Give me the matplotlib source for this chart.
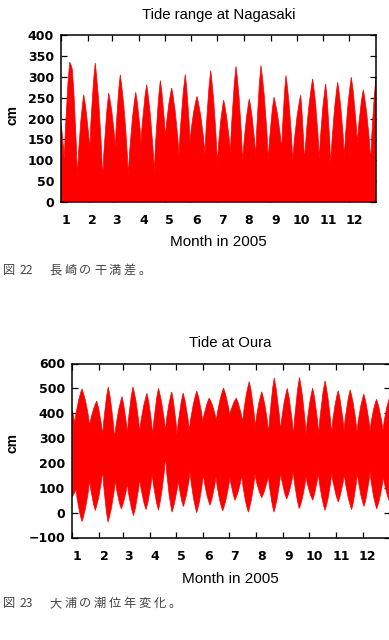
import numpy as np
import matplotlib
matplotlib.use("Agg")
import matplotlib.pyplot as plt
import matplotlib.transforms as mtransforms
from matplotlib.font_manager import FontProperties
from matplotlib.path import Path
from matplotlib.patches import PathPatch

# ---------------- data ----------------
# Tide range at Nagasaki: envelope vertices (day of year, cm)
nagasaki_days = [0, 3.8, 10.1, 13.1, 18.9, 26.3, 33.3, 39.7, 48.3, 55.3, 62.9, 68.7,
                 78.0, 86.6, 92.7, 99.3, 108.1, 115.1, 120.9, 128.3, 136.7, 144.0, 149.5,
                 157.6, 166.8, 173.5, 181.1, 188.5, 196.2, 202.8, 210.5, 218.2, 225.6,
                 231.7, 240.2, 246.8, 255.7, 260.7, 268.5, 277.7, 282.1, 291.6, 299.3,
                 306.7, 312.5, 320.6, 328.3, 336.4, 343.3, 350.3, 358.9, 365]
nagasaki_range = [185, 101, 335, 317, 59, 257, 125, 333, 57, 261, 131, 305,
                  65, 263, 141, 281, 73, 291, 155, 273, 112, 305, 145,
                  253, 115, 315, 93, 244, 117, 325, 97, 247, 109,
                  327, 101, 251, 125, 303, 99, 256, 95, 295, 104,
                  283, 89, 287, 109, 299, 141, 269, 99, 297]

# Tide at Oura: upper envelope (high waters) and lower envelope (low waters)
oura_high_days = [0, 3.1, 11.5, 20.3, 28.4, 35.3, 41.7, 48.9, 57.5, 63.6, 70.1, 77.8,
                  86.2, 92.8, 99.4, 107.3, 114.7, 120.7, 127.8, 134.8, 143.5, 150.3,
                  157.8, 165.9, 174.2, 181.3, 188.8, 196.2, 203.8, 210.7, 218.2, 226.1,
                  232.5, 239.7, 247.5, 254.6, 261.5, 269.0, 276.7, 283.6, 290.9, 298.3,
                  306.0, 312.7, 319.8, 327.6, 335.5, 342.6, 350.1, 357.5, 365]
oura_high = [412, 360, 498, 350, 449, 312, 506, 300, 467, 318, 506, 325,
             480, 312, 500, 330, 486, 312, 481, 330, 489, 365,
             461, 370, 501, 392, 461, 365, 527, 345, 486, 320,
             542, 330, 500, 310, 544, 315, 501, 315, 530, 320,
             491, 330, 494, 325, 477, 330, 456, 330, 462]
oura_low_days = [0, 4.6, 11.5, 20.3, 26.8, 35.3, 41.4, 49.8, 56.7, 63.6, 70.7, 77.8,
                 85.1, 92.2, 99.4, 107.5, 115.0, 122.2, 128.0, 135.7, 143.4, 150.9,
                 158.6, 165.5, 173.2, 181.6, 187.4, 195.1, 202.7, 210.4, 218.1, 225.7,
                 232.2, 239.9, 246.8, 254.4, 261.3, 269.0, 276.7, 283.1, 290.9, 298.6,
                 306.1, 313.0, 321.5, 328.0, 335.7, 342.6, 350.3, 357.9, 365]
oura_low = [63, 95, -36, 130, 9, 170, -38, 130, 15, 117, -12, 137,
            12, 157, 10, 225, 2, 130, 25, 165, 0, 155,
            30, 145, 7, 145, 50, 150, 2, 155, 60, 150,
            2, 160, 55, 165, 16, 145, 50, 160, 9, 160,
            43, 155, 12, 160, 25, 165, 15, 145, 45]

month_start_days = [0, 31, 59, 90, 120, 151, 181, 212, 243, 273, 304, 334]
month_labels = [str(m) for m in range(1, 13)]
nagasaki_yticks = [0, 50, 100, 150, 200, 250, 300, 350, 400]
oura_yticks = [-100, 0, 100, 200, 300, 400, 500, 600]

caption1_head = ['図', '22']
caption1_body = '長崎の干満差。'
caption2_head = ['図', '23']
caption2_body = '大浦の潮位年変化。'

# ---------------- figure ----------------
W, H = 389, 640
fig = plt.figure(figsize=(W / 100, H / 100), dpi=100)
plt.rcParams['font.family'] = ['Liberation Sans', 'DejaVu Sans']

RED = '#ff0000'
TICKFP = FontProperties(family=['DejaVu Sans'], weight='bold', size=9.0)
SANS = ['Liberation Sans', 'DejaVu Sans']
CJK = ['Noto Sans CJK JP', 'DejaVu Sans']


def px_axes(l, t, r, b):
    return fig.add_axes([l / W, 1 - b / H, (r - l) / W, (b - t) / H])


def style(ax, ylo, yhi, yticks):
    ax.set_xlim(0, 365)
    ax.set_ylim(ylo, yhi)
    ax.set_xticks(month_start_days)
    ax.set_xticklabels(month_labels)
    ax.set_yticks(yticks)
    ax.set_yticklabels([str(v).replace('-', '\u2212') for v in yticks])
    ax.tick_params(axis='both', which='major', direction='in', length=4.5, width=0.9,
                   top=True, right=True, color='black')
    ax.tick_params(axis='x', pad=9.0)
    ax.tick_params(axis='y', pad=5.0)
    for lab in ax.get_xticklabels() + ax.get_yticklabels():
        lab.set_fontproperties(TICKFP)
    offset = mtransforms.ScaledTranslation(5 / 100, 0, fig.dpi_scale_trans)
    for lab in ax.get_xticklabels():
        lab.set_transform(lab.get_transform() + offset)
    for s in ax.spines.values():
        s.set_linewidth(1.1)
        s.set_zorder(3)


def envelope_curve(xs, ys, sign):
    """Quadratic-Bezier envelope through the read vertices: slightly bulging
    toward the extremes (peaks for sign=+1, troughs for sign=-1)."""
    verts = [(xs[0], ys[0])]
    for i in range(len(xs) - 1):
        x0, y0, x1, y1 = xs[i], ys[i], xs[i + 1], ys[i + 1]
        dx, dy = x1 - x0, y1 - y0
        if dy * sign > 0:
            c = (x0 + 0.34 * dx, y0 + 0.62 * dy)
        else:
            c = (x0 + 0.66 * dx, y0 + 0.38 * dy)
        verts += [c, (x1, y1)]
    return verts


def caption(y, head, body):
    fig.text(3.3 / W, 1 - y / H, head[0], ha='left', va='center', fontsize=8.8,
             color='#444444', family=CJK)
    fig.text(20 / W, 1 - y / H, head[1], ha='left', va='center', fontsize=8.8,
             color='#444444', family=CJK)
    for i, ch in enumerate(body):
        fig.text((49.3 + 14.9 * i) / W, 1 - y / H, ch, ha='left', va='center',
                 fontsize=8.8, color='#444444', family=CJK)


# ---- top chart ----
ax1 = px_axes(61, 35, 376, 202)
top = envelope_curve(nagasaki_days, nagasaki_range, +1)
verts = [(nagasaki_days[0], 0)] + top + [(nagasaki_days[-1], 0), (nagasaki_days[0], 0)]
codes = ([Path.MOVETO, Path.LINETO] + [Path.CURVE3] * (len(top) - 1)
         + [Path.LINETO, Path.CLOSEPOLY])
ax1.add_patch(PathPatch(Path(verts, codes), fc=RED, ec=RED, lw=0.5, zorder=2))
style(ax1, 0, 400, nagasaki_yticks)

fig.text(218.5 / W, 1 - 15 / H, 'Tide range at Nagasaki', ha='center', va='center',
         fontsize=10.7, family=SANS)
fig.text(13 / W, 1 - 115 / H, 'cm', ha='center', va='center', rotation=90,
         fontsize=10, weight='bold', family=SANS)
fig.text(218.5 / W, 1 - 242.5 / H, 'Month in 2005', ha='center', va='center',
         fontsize=11, family=SANS)
caption(270.5, caption1_head, caption1_body)

# ---- bottom chart ----
ax2 = px_axes(72, 363.5, 389.5, 537.5)
up = envelope_curve(oura_high_days, oura_high, +1)
lo = envelope_curve(oura_low_days, oura_low, -1)[::-1]
verts = up + lo + [up[0]]
codes = ([Path.MOVETO] + [Path.CURVE3] * (len(up) - 1) + [Path.LINETO]
         + [Path.CURVE3] * (len(lo) - 1) + [Path.CLOSEPOLY])
ax2.add_patch(PathPatch(Path(verts, codes), fc=RED, ec=RED, lw=0.5, zorder=2))
style(ax2, -100, 600, oura_yticks)

fig.text(230 / W, 1 - 342.7 / H, 'Tide at Oura', ha='center', va='center',
         fontsize=10.7, family=SANS)
fig.text(13 / W, 1 - 443 / H, 'cm', ha='center', va='center', rotation=90,
         fontsize=10, weight='bold', family=SANS)
fig.text(230 / W, 1 - 579.3 / H, 'Month in 2005', ha='center', va='center',
         fontsize=11, family=SANS)
caption(603.3, caption2_head, caption2_body)

fig.savefig('out.png', dpi=100)
